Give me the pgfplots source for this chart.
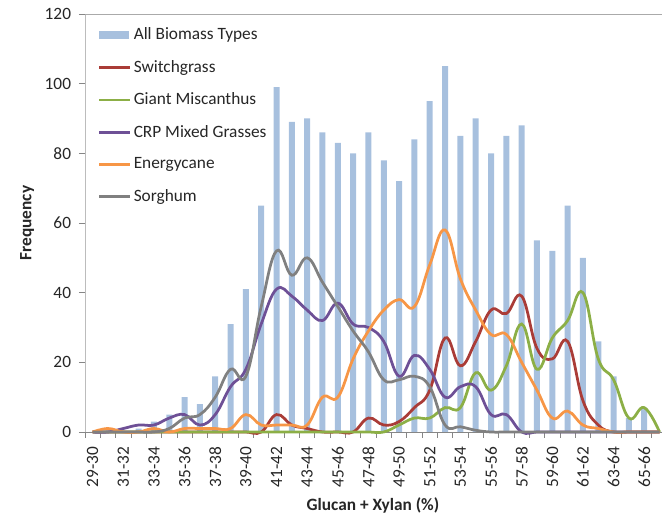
\documentclass[border=0pt]{standalone}
\usepackage{pgfplots}
\usepackage{pgfplotstable}
\usepackage{fontspec}
\setmainfont{Carlito}
\pgfplotsset{compat=1.18}

\definecolor{barblue}{RGB}{167,192,222}
\definecolor{cswitch}{RGB}{170,60,55}
\definecolor{cmisc}{RGB}{140,175,70}
\definecolor{ccrp}{RGB}{110,80,150}
\definecolor{cenergy}{RGB}{247,150,70}
\definecolor{csorg}{RGB}{128,128,128}
\definecolor{axgray}{RGB}{134,134,134}
\definecolor{txt}{RGB}{38,38,38}

% i = bin index (0 = 29-30 ... 37 = 66-67)
\pgfplotstableread{
i  all  switch misc crp energy sorg
0  0    0      0    0   0      0
1  0    0      0    0   1      0
2  0    0      0    1   0      0
3  1    0      0    2   0      0
4  3    0      0    2   1      0
5  5    0      0    4   0      1
6  10   0      0    5   1      4
7  8    0      0    2   1      5
8  16   0      0    5   1      10
9  31   0      0    13  1      18
10 41   0      0    18  5      16
11 65   0      0    31  2      36
12 99   5      0    41  2      52
13 89   2      0    39  2      45
14 90   1      0    35  2      50
15 86   0      0    32  10     43
16 83   0      0    37  10     36
17 80   0      0    31  21     29
18 86   4      0    30  29     23
19 78   2      0    26  35     15
20 72   3      2    16  38     15
21 84   7      4    22  36     16
22 95   12     4    18  48     13
23 105  27     7    10  58     2
24 85   19     7    13  44     1.5
25 90   26     17   13  35     0.5
26 80   35     12   5   28     0
27 85   34     19   5   28     0
28 88   39     31   0   20     0
29 55   24     18   0   12     0
30 52   21     27   0   4      0
31 65   26     32   0   6      0
32 50   9      40   0   2      0
33 26   2      21   0   1      0
34 16   0      15   0   0      0
35 4    0      4    0   0      0
36 7    0      7    0   0      0
37 0    0      0    0   0      0
}\bins

\begin{document}
\fontsize{17.3}{21}\selectfont
\begin{tikzpicture}
\path[use as bounding box] (0,0) rectangle (662pt,517pt);
\begin{axis}[
    at={(85pt,85pt)}, anchor=south west,
    scale only axis,
    width=577pt, height=418pt,
    xmin=-0.5, xmax=37.16,
    ymin=0, ymax=120,
    clip=false,
    axis x line*=bottom,
    axis y line*=left,
    x axis line style={draw=axgray, line width=0.8pt, -},
    y axis line style={draw=axgray!55, line width=0.8pt, -},
    tick align=outside,
    major tick length=6pt,
    minor tick length=6pt,
    every tick/.style={draw=axgray, line width=0.8pt},
    ytick={0,20,...,100},
    extra y ticks={120},
    extra y tick style={grid=major, grid style={draw=axgray!70, line width=0.8pt}},
    yticklabel style={xshift=-2pt},
    xtick={0,2,...,36},
    xticklabels={29-30,31-32,33-34,35-36,37-38,39-40,41-42,43-44,45-46,47-48,49-50,51-52,53-54,55-56,57-58,59-60,61-62,63-64,65-66},
    every major x tick/.style={draw=none},
    minor xtick={-0.5,0.5,...,37.5},
    xticklabel style={rotate=90, anchor=east, xshift=-3pt},
    tick label style={font=\fontsize{17.3}{21}\selectfont, text=txt},
    /pgf/number format/assume math mode=true,
    xlabel={\textbf{Glucan + Xylan (\%)}},
    ylabel={\textbf{Frequency}},
    xlabel style={at={(axis description cs:0.499,-0.1746)}, anchor=center, text=txt},
    ylabel style={at={(axis description cs:-0.1005,0.5)}, anchor=center, text=txt},
    legend style={draw=none, fill=none, at={(axis description cs:0.017,0.978)},
        anchor=north west, row sep=14pt, text=txt,
        font=\fontsize{17.3}{21}\selectfont},
    legend cell align=left,
    legend image code/.code={\draw[#1] (0pt,0pt) -- (31pt,0pt);},
]
\addplot[ybar, bar width=6pt, fill=barblue, draw=none,
    legend image code/.code={\fill[barblue] (0pt,-4pt) rectangle (30pt,4pt);}]
    table[x=i, y=all] {\bins};
\addlegendentry{All Biomass Types}
\addplot[smooth, tension=0.7, no markers, color=cswitch, line width=2.75pt] table[x=i, y=switch] {\bins};
\addlegendentry{Switchgrass}
\addplot[smooth, tension=0.7, no markers, color=cmisc, line width=2.75pt] table[x=i, y=misc] {\bins};
\addlegendentry{Giant Miscanthus}
\addplot[smooth, tension=0.7, no markers, color=ccrp, line width=2.75pt] table[x=i, y=crp] {\bins};
\addlegendentry{CRP Mixed Grasses}
\addplot[smooth, tension=0.7, no markers, color=cenergy, line width=2.75pt] table[x=i, y=energy] {\bins};
\addlegendentry{Energycane}
\addplot[smooth, tension=0.7, no markers, color=csorg, line width=2.75pt] table[x=i, y=sorg] {\bins};
\addlegendentry{Sorghum}
\end{axis}
\end{tikzpicture}
\end{document}
